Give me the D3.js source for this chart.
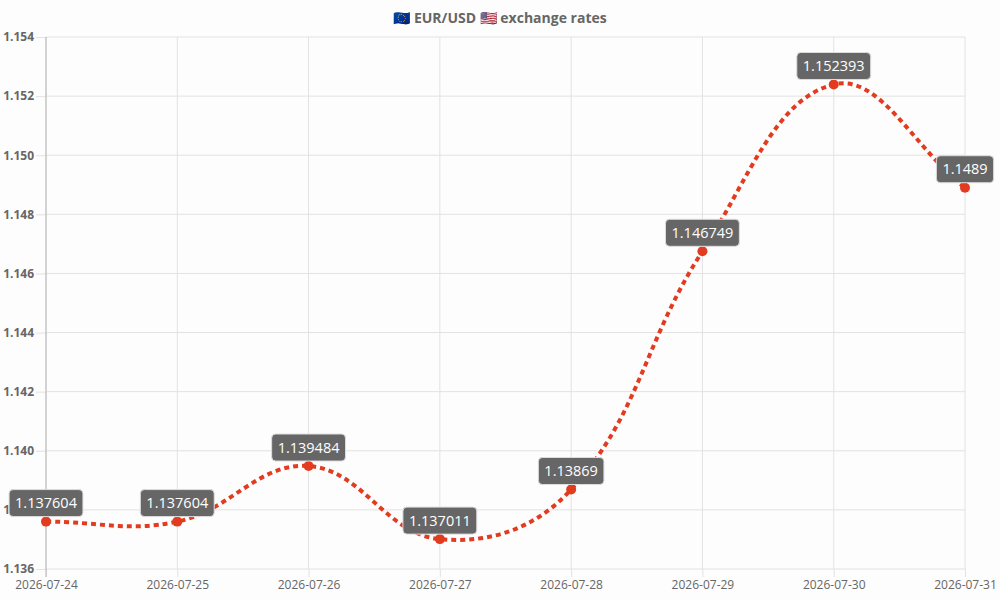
<!DOCTYPE html>
<html>
<head>
<meta charset="utf-8">
<script src="https://cdn.jsdelivr.net/npm/d3@7"></script>
<style>
  html, body { margin: 0; padding: 0; background: #fdfdfd; }
  svg { display: block; font-family: "Open Sans", "Noto Sans", sans-serif; }
</style>
</head>
<body>
<svg id="chart" width="1000" height="600"></svg>
<script>
const titleParts = [
  { t: "🇪🇺", flag: true },
  { t: " EUR/USD ", flag: false },
  { t: "🇺🇸", flag: true },
  { t: " exchange rates", flag: false }
];
const dates = ["2026-07-24", "2026-07-25", "2026-07-26", "2026-07-27", "2026-07-28", "2026-07-29", "2026-07-30", "2026-07-31"];
const rates = [1.137604, 1.137604, 1.139484, 1.137011, 1.13869, 1.146749, 1.152393, 1.1489];
const rateLabels = ["1.137604", "1.137604", "1.139484", "1.137011", "1.13869", "1.146749", "1.152393", "1.1489"];
const yTicks = [1.136, 1.138, 1.140, 1.142, 1.144, 1.146, 1.148, 1.150, 1.152, 1.154];

const W = 1000, H = 600;
const m = { left: 46, right: 35, top: 37, bottom: 31 };
const svg = d3.select("#chart");
svg.append("rect").attr("width", W).attr("height", H).attr("fill", "#fdfdfd");

const x = d3.scalePoint().domain(dates).range([m.left, W - m.right]);
const y = d3.scaleLinear().domain([1.136, 1.154]).range([H - m.bottom, m.top]);

const gridColor = "#e2e2e2";

const yAxis = svg.append("g").attr("transform", `translate(${m.left},0)`)
  .call(d3.axisLeft(y).tickValues(yTicks).tickFormat(d3.format(".3f")).tickSize(10).tickPadding(2))
  .call(g => g.select(".domain").remove());
yAxis.selectAll(".tick line").attr("stroke", gridColor);
yAxis.selectAll(".tick text").attr("fill", "#666").attr("font-size", 12).attr("font-weight", "bold")
  .attr("font-family", "'Open Sans', sans-serif");
svg.append("g").selectAll("line").data(yTicks).join("line")
  .attr("x1", m.left).attr("x2", W - m.right)
  .attr("y1", d => y(d)).attr("y2", d => y(d))
  .attr("stroke", gridColor).attr("stroke-width", 1);

const xAxis = svg.append("g").attr("transform", `translate(0,${H - m.bottom})`)
  .call(d3.axisBottom(x).tickSize(8).tickPadding(3))
  .call(g => g.select(".domain").remove());
xAxis.selectAll(".tick line").attr("stroke", gridColor);
xAxis.selectAll(".tick text").attr("fill", "#666").attr("font-size", 12)
  .attr("font-family", "'Open Sans', sans-serif");
svg.append("g").selectAll("line").data(dates).join("line")
  .attr("x1", d => x(d)).attr("x2", d => x(d))
  .attr("y1", m.top).attr("y2", H - m.bottom)
  .attr("stroke", gridColor).attr("stroke-width", 1);

svg.append("line").attr("x1", m.left).attr("x2", m.left)
  .attr("y1", m.top).attr("y2", H - m.bottom + 8)
  .attr("stroke", "#b5b5b5").attr("stroke-width", 1);

const pts = dates.map((d, i) => [x(d), y(rates[i])]);
function splinePath(p, t) {
  const n = p.length;
  const cps = p.map((p1, i) => {
    const p0 = i > 0 ? p[i - 1] : p1;
    const p2 = i < n - 1 ? p[i + 1] : p1;
    const d01 = Math.hypot(p1[0] - p0[0], p1[1] - p0[1]);
    const d12 = Math.hypot(p2[0] - p1[0], p2[1] - p1[1]);
    let s01 = d01 / (d01 + d12), s12 = d12 / (d01 + d12);
    if (!isFinite(s01)) s01 = 0; if (!isFinite(s12)) s12 = 0;
    const fa = t * s01, fb = t * s12;
    return {
      prev: [p1[0] - fa * (p2[0] - p0[0]), p1[1] - fa * (p2[1] - p0[1])],
      next: [p1[0] + fb * (p2[0] - p0[0]), p1[1] + fb * (p2[1] - p0[1])]
    };
  });
  const path = d3.path();
  path.moveTo(p[0][0], p[0][1]);
  for (let i = 1; i < n; i++) {
    const c1 = cps[i - 1].next, c2 = cps[i].prev;
    path.bezierCurveTo(c1[0], c1[1], c2[0], c2[1], p[i][0], p[i][1]);
  }
  return path.toString();
}
const red = "#e23b1f";
svg.append("path").attr("d", splinePath(pts, 0.4))
  .attr("fill", "none").attr("stroke", red).attr("stroke-width", 4)
  .attr("stroke-dasharray", "5,4");

svg.append("g").selectAll("circle").data(dates).join("circle")
  .attr("cx", d => x(d)).attr("cy", (d, i) => y(rates[i]))
  .attr("r", 5).attr("fill", red);

const lg = svg.append("g").selectAll("g").data(dates).join("g")
  .attr("transform", (d, i) => `translate(${x(d)},${y(rates[i])})`);
lg.each(function (d, i) {
  const g = d3.select(this);
  const txt = g.append("text").text(rateLabels[i])
    .attr("font-size", 14.5).attr("fill", "#fff")
    .attr("text-anchor", "middle").attr("y", -18.5).attr("dy", "0.35em");
  const w = txt.node().getComputedTextLength() + 12;
  g.insert("rect", "text")
    .attr("x", -w / 2).attr("y", -32).attr("width", w).attr("height", 27)
    .attr("rx", 4).attr("fill", "#666").attr("stroke", "#ddd").attr("stroke-width", 1);
});

const title = svg.append("text").attr("x", 500).attr("y", 18).attr("dy", "0.35em")
  .attr("text-anchor", "middle").attr("font-size", 14).attr("font-weight", "bold")
  .attr("fill", "#666");
title.selectAll("tspan").data(titleParts).join("tspan")
  .attr("font-family", d => d.flag ? "'DejaVu Sans'" : null)
  .attr("font-weight", d => d.flag ? "normal" : null)
  .text(d => d.t);
</script>
</body>
</html>
